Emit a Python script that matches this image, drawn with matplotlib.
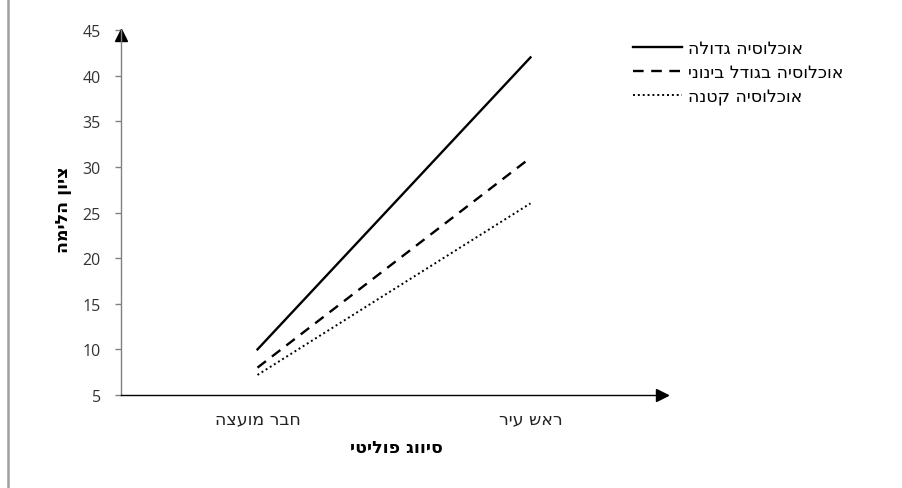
import matplotlib
matplotlib.use("Agg")
import matplotlib.pyplot as plt
from matplotlib.lines import Line2D
from matplotlib.transforms import offset_copy


def heb(s):
    # matplotlib has no bidi support, so flip Hebrew text for display
    return s[::-1]


CATEGORIES = ["חבר מועצה", "ראש עיר"]
SERIES_NAMES = ["אוכלוסיה גדולה", "אוכלוסיה בגודל בינוני", "אוכלוסיה קטנה"]
LARGE = [10.0, 42.0]
MEDIUM = [8.0, 31.0]
SMALL = [7.2, 26.0]
Y_TICKS = [5, 10, 15, 20, 25, 30, 35, 40, 45]
X_LABEL = "סיווג פוליטי"
Y_LABEL = "ציון הלימה"

HEB_FONT = ["DejaVu Sans"]
NUM_FONT = ["Open Sans", "DejaVu Sans"]
HEB_SIZE = 12.5


def main():
    plt.rcParams["font.family"] = HEB_FONT

    fig = plt.figure(figsize=(9.03, 4.89), dpi=100)
    ax = fig.add_axes([121 / 903, 93 / 489, (667 - 121) / 903, (458 - 93) / 489])

    xs = [0.5, 1.5]
    ax.plot(xs, LARGE, color="black", lw=1.7, linestyle="-", label=heb(SERIES_NAMES[0]))
    ax.plot(xs, MEDIUM, color="black", lw=1.7, linestyle=(0, (4.5, 3.2)), label=heb(SERIES_NAMES[1]))
    ax.plot(xs, SMALL, color="black", lw=1.4, linestyle=(0, (1, 1.5)), label=heb(SERIES_NAMES[2]))

    ax.set_xlim(0, 2)
    ax.set_ylim(5, 45)
    ax.set_yticks(Y_TICKS)
    ax.set_yticklabels([str(v) for v in Y_TICKS], fontsize=11.5, color="#333333",
                       family=NUM_FONT)
    ax.set_xticks(xs)
    ax.set_xticklabels([heb(c) for c in CATEGORIES], fontsize=HEB_SIZE, color="#222222")

    ax.spines["top"].set_visible(False)
    ax.spines["right"].set_visible(False)
    ax.spines["left"].set_color("#808080")
    ax.spines["bottom"].set_color("black")
    ax.spines["left"].set_linewidth(1.0)
    ax.spines["bottom"].set_linewidth(1.0)
    ax.tick_params(axis="y", length=4.5, width=1.0, color="#808080", pad=10)
    ax.tick_params(axis="x", length=0, pad=10)

    # arrow heads at the axis ends, tips on the axis ends
    up = offset_copy(ax.transAxes, fig=fig, x=0, y=-5, units="dots")
    right = offset_copy(ax.transAxes, fig=fig, x=-5, y=0, units="dots")
    ax.plot([0], [1], marker="^", color="black", markersize=8, transform=up, clip_on=False)
    ax.plot([1], [0], marker=">", color="black", markersize=8, transform=right, clip_on=False)

    fig.text(396 / 903, 1 - 448 / 489, heb(X_LABEL), ha="center", va="center",
             fontsize=HEB_SIZE, fontweight="bold")
    fig.text(63 / 903, 1 - 210 / 489, heb(Y_LABEL), ha="center", va="center",
             rotation=90, fontsize=HEB_SIZE, fontweight="bold")

    ax.legend(loc="upper left", bbox_to_anchor=(633 / 903, 1 - 40 / 489),
              bbox_transform=fig.transFigure, frameon=False, fontsize=HEB_SIZE,
              handlelength=2.8, handletextpad=0.35, labelspacing=0.36,
              borderaxespad=0, borderpad=0)

    # grey border line on the left of the picture
    fig.add_artist(Line2D([8 / 903, 8 / 903], [0, 1], color="#a0a0a0", lw=1.8,
                          transform=fig.transFigure))

    fig.savefig("out.png", dpi=100)
    plt.close(fig)


if __name__ == "__main__":
    main()
